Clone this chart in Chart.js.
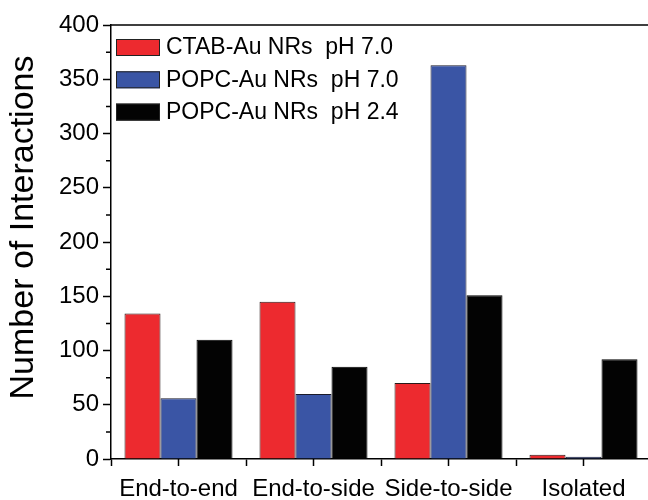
<!DOCTYPE html>
<html>
<head>
<meta charset="utf-8">
<script src="https://cdn.jsdelivr.net/npm/chart.js@4.4.0/dist/chart.umd.min.js"></script>
<style>
  html, body { margin: 0; padding: 0; background: #fff; overflow: hidden; }
  #wrap { width: 651px; height: 500px; }
</style>
</head>
<body>
<div id="wrap"><canvas id="grafico" width="651" height="500"></canvas></div>
<script>
// dados
const categorias = ['End-to-end', 'End-to-side', 'Side-to-side', 'Isolated'];
const ctabPh70 = [134, 145, 70, 4];
const popcPh70 = [56, 60, 363, 2];
const popcPh24 = [110, 85, 151, 92];
const yMin = 0;
const yMax = 400;
const yPasso = 50;
const tituloY = 'Number of Interactions';

const fonte = '"Liberation Sans", Arial, Helvetica, sans-serif';

// moldura, ticks menores, titulo do eixo y e legenda dentro da area
const moldura = {
    id: 'moldura',
    afterDraw(chart) {
        const { ctx, chartArea: a, scales: { x, y } } = chart;
        ctx.save();
        ctx.strokeStyle = '#000';
        ctx.lineWidth = 1.5;
        ctx.beginPath();
        ctx.moveTo(a.left, a.top);
        ctx.lineTo(a.right, a.top);
        ctx.lineTo(a.right, a.bottom);
        // ticks menores no eixo y
        for (let v = yMin + yPasso / 2; v < yMax; v += yPasso) {
            const py = y.getPixelForValue(v);
            ctx.moveTo(a.left - 5, py);
            ctx.lineTo(a.left, py);
        }
        // ticks no centro de cada categoria
        categorias.forEach((c, i) => {
            const px = x.getPixelForValue(i);
            ctx.moveTo(px, a.bottom);
            ctx.lineTo(px, a.bottom + 7);
        });
        ctx.stroke();

        // titulo do eixo y
        ctx.save();
        ctx.translate(24, a.top + (a.bottom - a.top) / 2 - 14.5);
        ctx.rotate(-Math.PI / 2);
        ctx.font = '34px ' + fonte;
        ctx.fillStyle = '#000';
        ctx.textAlign = 'center';
        ctx.textBaseline = 'middle';
        ctx.fillText(tituloY, 0, 0);
        ctx.restore();

        // legenda
        ctx.font = '23px ' + fonte;
        ctx.textBaseline = 'middle';
        ctx.textAlign = 'left';
        chart.data.datasets.forEach((ds, i) => {
            const topo = a.top + 14 + i * 32.3;
            ctx.fillStyle = ds.backgroundColor;
            ctx.fillRect(a.left + 5, topo, 44, 17);
            ctx.strokeStyle = '#222';
            ctx.lineWidth = 1;
            ctx.strokeRect(a.left + 5.5, topo + 0.5, 43, 16);
            ctx.fillStyle = '#000';
            ctx.fillText(ds.label, a.left + 55, topo + 9);
        });
        ctx.restore();
    }
};

var ctx = document.getElementById('grafico').getContext('2d');
var chart = new Chart(ctx, {
    type: 'bar',
    data: {
        labels: categorias,
        datasets: [
            {
                label: 'CTAB-Au NRs  pH 7.0',
                data: ctabPh70,
                backgroundColor: '#ED2A2F',
                borderColor: '#2a1a1a',
                borderWidth: 1
            },
            {
                label: 'POPC-Au NRs  pH 7.0',
                data: popcPh70,
                backgroundColor: '#3A55A5',
                borderColor: '#1a1a2a',
                borderWidth: 1
            },
            {
                label: 'POPC-Au NRs  pH 2.4',
                data: popcPh24,
                backgroundColor: '#030303',
                borderColor: '#000',
                borderWidth: 1
            }
        ]
    },
    options: {
        responsive: false,
        animation: false,
        layout: { padding: { top: 25, right: 0, left: 0, bottom: 0 } },
        categoryPercentage: 0.8,
        barPercentage: 1.0,
        plugins: {
            legend: { display: false },
            tooltip: { enabled: false }
        },
        scales: {
            x: {
                offset: true,
                grid: {
                    offset: true,
                    drawOnChartArea: false,
                    tickLength: 7,
                    tickWidth: 1.5,
                    tickColor: '#000'
                },
                border: { display: true, color: '#000', width: 1.5 },
                ticks: {
                    color: '#000',
                    font: { family: fonte, size: 24 },
                    padding: 9,
                    maxRotation: 0,
                    autoSkip: false
                },
                afterFit(scale) { scale.height = 41; }
            },
            y: {
                min: yMin,
                max: yMax,
                grid: {
                    drawOnChartArea: false,
                    tickLength: 8,
                    tickWidth: 1.5,
                    tickColor: '#000'
                },
                border: { display: true, color: '#000', width: 1.5 },
                ticks: {
                    stepSize: yPasso,
                    color: '#000',
                    font: { family: fonte, size: 24 },
                    padding: 4
                },
                afterFit(scale) { scale.width = 111; }
            }
        }
    },
    plugins: [moldura]
});
</script>
</body>
</html>
